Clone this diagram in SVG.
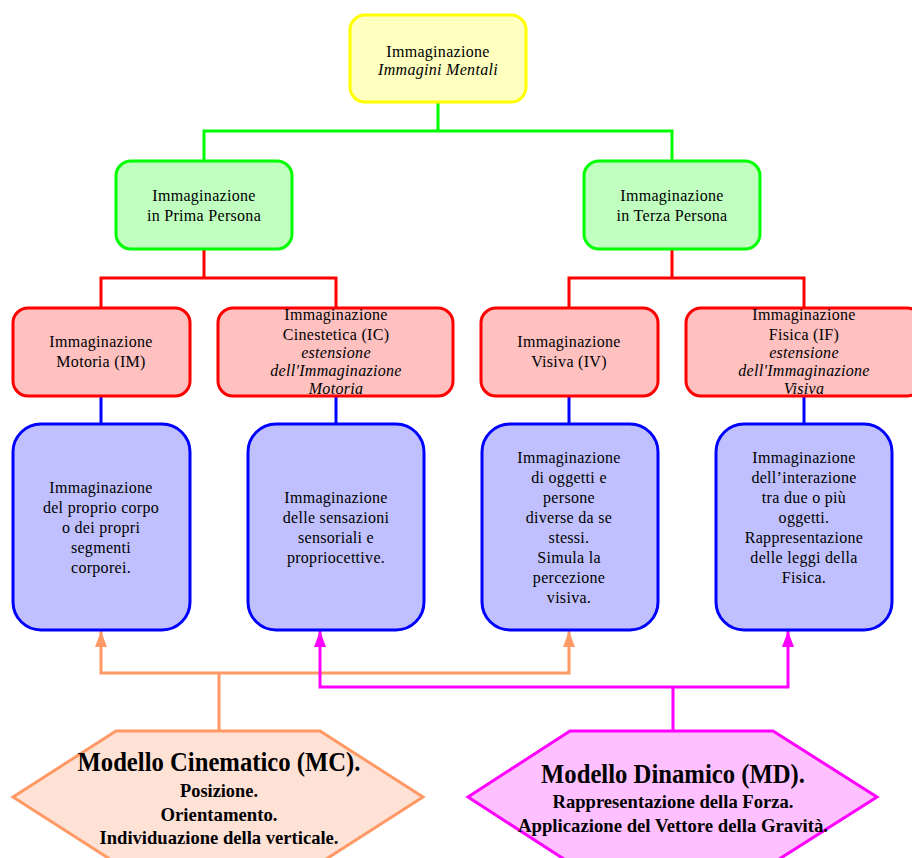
<svg xmlns="http://www.w3.org/2000/svg" width="912" height="858" viewBox="0 0 912 858">
<style>
text{font-family:"Liberation Serif","Times New Roman",serif;fill:#000;text-anchor:middle}
.t{font-size:16px;letter-spacing:0.3px}
.i{font-style:italic}
.h{font-weight:bold}
.box{stroke-width:3}
.y{fill:#ffffc0;stroke:#ffff00}
.g{fill:#c0ffc0;stroke:#00ff00}
.r{fill:#ffc0c0;stroke:#ff0000}
.b{fill:#c0c0ff;stroke:#0000ff}
.conn path{fill:none;stroke-width:3}
</style>
<defs>
<marker id="ao" viewBox="0 0 16 12" markerWidth="16" markerHeight="12" refX="16" refY="6" orient="auto" markerUnits="userSpaceOnUse"><path d="M0 0 L16 6 L0 12 Z" fill="#ff9966"/></marker>
<marker id="am" viewBox="0 0 16 12" markerWidth="16" markerHeight="12" refX="16" refY="6" orient="auto" markerUnits="userSpaceOnUse"><path d="M0 0 L16 6 L0 12 Z" fill="#ff00ff"/></marker>
</defs>
<g class="conn" id="connectors">
<path d="M438 102 V131 M204 161 V131 H672 V161" stroke="#00ff00"/>
<path d="M204 249 V278 M101 308 V278 H336 V308" stroke="#ff0000"/>
<path d="M672 249 V278 M569 308 V278 H804 V308" stroke="#ff0000"/>
<path d="M101 396 V424 M336 396 V424 M569 396 V424 M804 396 V424" stroke="#0000ff"/>
<path d="M219 731 V673 H101 V645 M219 673 H569 V645" stroke="#ff9966"/>
<path d="M101 646 V631" stroke="#ff9966" marker-end="url(#ao)"/>
<path d="M569 646 V631" stroke="#ff9966" marker-end="url(#ao)"/>
<path d="M673 731 V687 H320 V645 M673 687 H788 V645" stroke="#ff00ff"/>
<path d="M320 646 V631" stroke="#ff00ff" marker-end="url(#am)"/>
<path d="M788 646 V631" stroke="#ff00ff" marker-end="url(#am)"/>
</g>
<g id="n_top">
<rect class="box y" x="350" y="15" width="176" height="87" rx="15"/>
<text class="t" x="438" y="57">Immaginazione</text>
<text class="t i" x="438" y="75">Immagini Mentali</text>
</g>
<g id="n_prima">
<rect class="box g" x="116" y="161" width="176" height="88" rx="15"/>
<text class="t" x="204" y="201">Immaginazione</text>
<text class="t" x="204" y="221">in Prima Persona</text>
</g>
<g id="n_terza">
<rect class="box g" x="584" y="161" width="176" height="88" rx="15"/>
<text class="t" x="672" y="201">Immaginazione</text>
<text class="t" x="672" y="221">in Terza Persona</text>
</g>
<g id="n_im">
<rect class="box r" x="13" y="308" width="177" height="88" rx="15"/>
<text class="t" x="101" y="347">Immaginazione</text>
<text class="t" x="101" y="367">Motoria (IM)</text>
</g>
<g id="n_ic">
<rect class="box r" x="218" y="308" width="235" height="88" rx="15"/>
<text class="t" x="336" y="320">Immaginazione</text>
<text class="t" x="336" y="340">Cinestetica (IC)</text>
<text class="t i" x="336" y="358">estensione</text>
<text class="t i" x="336" y="376">dell'Immaginazione</text>
<text class="t i" x="336" y="394">Motoria</text>
</g>
<g id="n_iv">
<rect class="box r" x="481" y="308" width="177" height="88" rx="15"/>
<text class="t" x="569" y="347">Immaginazione</text>
<text class="t" x="569" y="367">Visiva (IV)</text>
</g>
<g id="n_if">
<rect class="box r" x="686" y="308" width="236" height="88" rx="15"/>
<text class="t" x="804" y="320">Immaginazione</text>
<text class="t" x="804" y="340">Fisica (IF)</text>
<text class="t i" x="804" y="358">estensione</text>
<text class="t i" x="804" y="376">dell'Immaginazione</text>
<text class="t i" x="804" y="394">Visiva</text>
</g>
<g id="n_b1">
<rect class="box b" x="13" y="424" width="177" height="206" rx="28"/>
<text class="t" x="101" y="493">Immaginazione</text>
<text class="t" x="101" y="513">del proprio corpo</text>
<text class="t" x="101" y="533">o dei propri</text>
<text class="t" x="101" y="553">segmenti</text>
<text class="t" x="101" y="573">corporei.</text>
</g>
<g id="n_b2">
<rect class="box b" x="248" y="424" width="176" height="206" rx="28"/>
<text class="t" x="336" y="503">Immaginazione</text>
<text class="t" x="336" y="523">delle sensazioni</text>
<text class="t" x="336" y="543">sensoriali e</text>
<text class="t" x="336" y="563">propriocettive.</text>
</g>
<g id="n_b3">
<rect class="box b" x="482" y="424" width="176" height="206" rx="28"/>
<text class="t" x="569" y="463">Immaginazione</text>
<text class="t" x="569" y="483">di oggetti e</text>
<text class="t" x="569" y="503">persone</text>
<text class="t" x="569" y="523">diverse da se</text>
<text class="t" x="569" y="543">stessi.</text>
<text class="t" x="569" y="563">Simula la</text>
<text class="t" x="569" y="583">percezione</text>
<text class="t" x="569" y="603">visiva.</text>
</g>
<g id="n_b4">
<rect class="box b" x="716" y="424" width="176" height="206" rx="28"/>
<text class="t" x="804" y="463">Immaginazione</text>
<text class="t" x="804" y="483">dell’interazione</text>
<text class="t" x="804" y="503">tra due o più</text>
<text class="t" x="804" y="523">oggetti.</text>
<text class="t" x="804" y="543">Rappresentazione</text>
<text class="t" x="804" y="563">delle leggi della</text>
<text class="t" x="804" y="583">Fisica.</text>
</g>
<g id="n_mc">
<polygon points="116,731 320,731 423,797 320,863 116,863 13,797" fill="#ffe2d6" stroke="#ff9966" stroke-width="3"/>
<text class="h" x="219" y="771" font-size="28" textLength="283" lengthAdjust="spacingAndGlyphs">Modello Cinematico (MC).</text>
<text class="h" x="219" y="797" font-size="19" textLength="78" lengthAdjust="spacingAndGlyphs">Posizione.</text>
<text class="h" x="219" y="821" font-size="19" textLength="117" lengthAdjust="spacingAndGlyphs">Orientamento.</text>
<text class="h" x="219" y="844" font-size="19" textLength="239" lengthAdjust="spacingAndGlyphs">Individuazione della verticale.</text>
</g>
<g id="n_md">
<polygon points="570,731 773,731 877,797 773,863 570,863 468,797" fill="#ffc0ff" stroke="#ff00ff" stroke-width="3"/>
<text class="h" x="673" y="783" font-size="28" textLength="264" lengthAdjust="spacingAndGlyphs">Modello Dinamico (MD).</text>
<text class="h" x="673" y="808" font-size="19" textLength="241" lengthAdjust="spacingAndGlyphs">Rappresentazione della Forza.</text>
<text class="h" x="673" y="832" font-size="19" textLength="310" lengthAdjust="spacingAndGlyphs">Applicazione del Vettore della Gravità.</text>
</g>
</svg>
